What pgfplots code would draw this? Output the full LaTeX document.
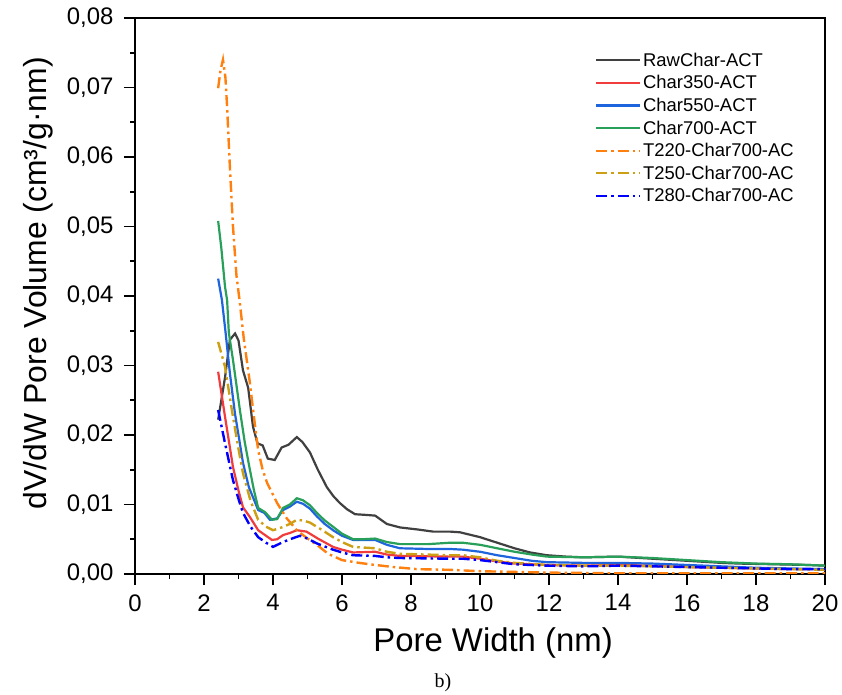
\documentclass[border=0pt]{standalone}
\usepackage{pgfplots}
\pgfplotsset{compat=1.18}
\usepackage{fontspec}
\setmainfont{Liberation Sans}
\newfontfamily\seriffont{Liberation Serif}
\definecolor{cRaw}{RGB}{64,64,64}
\definecolor{cRed}{RGB}{240,60,60}
\definecolor{cBlue}{RGB}{30,100,220}
\definecolor{cGreen}{RGB}{40,160,90}
\definecolor{cOrange}{RGB}{255,128,14}
\definecolor{cGold}{RGB}{205,160,20}
\definecolor{cDBlue}{RGB}{0,0,255}
\begin{document}
\begin{tikzpicture}[x=1bp,y=1bp]
\useasboundingbox (-135,-121) rectangle (707,574);
\begin{axis}[
  scale only axis, width=690bp, height=556bp,
  xmin=0, xmax=20, ymin=0, ymax=0.08,
  xtick={0,2,4,6,8,10,12,14,16,18,20},
  ytick={0,0.01,0.02,0.03,0.04,0.05,0.06,0.07,0.08},
  minor x tick num=1, minor y tick num=1,
  tick align=outside, xtick pos=bottom, ytick pos=left,
  major tick length=11bp, minor tick length=5bp,
  every tick/.style={black, line width=1.6bp},
  axis line style={line width=1.6bp},
  ticklabel style={font=\fontsize{24}{28}\selectfont},
  /pgf/number format/assume math mode=true,
  yticklabel style={xshift=-7bp, /pgf/number format/.cd, fixed, fixed zerofill, precision=2, use comma},
  xticklabel style={yshift=-6bp},
  scaled y ticks=false,
  xlabel={Pore Width (nm)},
  ylabel={dV/dW Pore Volume (cm³/g·nm)},
  every axis x label/.style={at={(rel axis cs:0.519,-0.124)}, anchor=center, font=\fontsize{33}{38}\selectfont},
  every axis y label/.style={at={(rel axis cs:-0.1406,0.523)}, anchor=center, rotate=90, font=\fontsize{32}{38}\selectfont},
  legend style={at={(rel axis cs:0.662,0.945)}, anchor=north west, draw=none, fill=none,
    font=\fontsize{18.5}{22}\selectfont, row sep=3.8bp},
  legend cell align=left,
  legend image code/.code={\draw[#1, line width=2.2bp] (0bp,0bp) -- (44bp,0bp);},
  clip mode=individual,
]
\addplot[cRaw, line width=2.2bp] coordinates {
(2.41,0.0222) (2.61,0.0283) (2.75,0.0337) (2.90,0.0346) (3.00,0.0336) (3.13,0.0293)
(3.28,0.0268) (3.42,0.0212) (3.55,0.0188) (3.70,0.0185) (3.85,0.0166) (4.05,0.0164)
(4.25,0.0182) (4.45,0.0186) (4.69,0.0197) (4.85,0.0190) (5.07,0.0175) (5.30,0.0150)
(5.56,0.0125) (5.75,0.0112) (5.94,0.0102) (6.15,0.0093) (6.38,0.0086) (6.70,0.0085)
(6.96,0.0084) (7.30,0.0072) (7.68,0.0067) (8.20,0.0064) (8.64,0.0061) (9.13,0.0061)
(9.42,0.0060) (10.0,0.0053) (10.5,0.0045) (11.0,0.0037) (11.45,0.0031) (11.94,0.0027)
(12.5,0.0025) (13.0,0.0024) (14.0,0.0025) (15.0,0.0022) (16.0,0.0019) (17.0,0.0016)
(17.5,0.0015) (18.5,0.0014) (19.5,0.0013) (20.0,0.0012)};
\addlegendentry{RawChar-ACT}
\addplot[cRed, line width=2.2bp] coordinates {
(2.41,0.0291) (2.61,0.0226) (2.84,0.0154) (3.00,0.0120) (3.13,0.0096) (3.33,0.0082)
(3.57,0.0063) (3.77,0.0056) (3.97,0.0049) (4.12,0.0050) (4.29,0.0056) (4.49,0.0059)
(4.69,0.0063) (4.97,0.0061) (5.30,0.0051) (5.74,0.0039) (6.00,0.0035) (6.32,0.0031)
(6.96,0.0032) (7.30,0.0028) (7.68,0.0026) (9.13,0.0025) (9.50,0.0025) (10.0,0.0022)
(10.5,0.0018) (11.0,0.0015) (11.94,0.0013) (13.0,0.0012) (14.0,0.0013) (15.0,0.0012)
(16.0,0.0010) (17.0,0.0009) (18.0,0.0008) (19.0,0.0007) (20.0,0.0007)};
\addlegendentry{Char350-ACT}
\addplot[cBlue, line width=2.2bp] coordinates {
(2.41,0.0425) (2.52,0.0394) (2.62,0.0350) (2.75,0.0289) (2.90,0.0230) (3.00,0.0200)
(3.13,0.0160) (3.30,0.0125) (3.57,0.0092) (3.75,0.0088) (3.91,0.0078) (4.12,0.0080)
(4.29,0.0092) (4.49,0.0097) (4.69,0.0104) (4.87,0.0101) (5.07,0.0094) (5.27,0.0083)
(5.50,0.0072) (5.74,0.0063) (6.00,0.0055) (6.32,0.0049) (6.60,0.0049) (6.96,0.0049)
(7.30,0.0042) (7.68,0.0037) (8.50,0.0036) (9.13,0.0036) (9.50,0.0035) (10.0,0.0032)
(10.5,0.0027) (11.0,0.0023) (11.5,0.0019) (11.94,0.0017) (13.0,0.0016) (14.0,0.0016)
(15.0,0.0015) (16.0,0.0013) (17.0,0.0011) (18.0,0.0009) (19.0,0.0008) (20.0,0.0007)};
\addlegendentry{Char550-ACT}
\addplot[cGreen, line width=2.2bp] coordinates {
(2.41,0.0508) (2.50,0.0470) (2.61,0.0413) (2.67,0.0394) (2.72,0.0347) (2.84,0.0308)
(3.04,0.0236) (3.18,0.0190) (3.33,0.0150) (3.45,0.0120) (3.57,0.0095) (3.77,0.0089)
(3.97,0.0078) (4.12,0.0079) (4.29,0.0095) (4.49,0.0100) (4.69,0.0109) (4.87,0.0106)
(5.07,0.0099) (5.27,0.0088) (5.50,0.0077) (5.74,0.0068) (6.00,0.0058) (6.32,0.0050)
(6.60,0.0050) (6.96,0.0051) (7.30,0.0046) (7.68,0.0043) (8.50,0.0043) (9.13,0.0045)
(9.50,0.0045) (10.0,0.0042) (10.5,0.0037) (11.0,0.0032) (11.5,0.0028) (11.94,0.0025)
(13.0,0.0024) (14.0,0.0025) (15.0,0.0023) (16.0,0.0020) (17.0,0.0017) (18.0,0.0015)
(19.0,0.0014) (20.0,0.0012)};
\addlegendentry{Char700-ACT}
\addplot[cOrange, line width=2.4bp, dash pattern=on 11bp off 4bp on 2.5bp off 4bp] coordinates {
(2.41,0.0699) (2.48,0.0725) (2.55,0.0740) (2.62,0.0715) (2.67,0.0672) (2.75,0.0586)
(2.84,0.0500) (2.94,0.0430) (3.04,0.0390) (3.15,0.0340) (3.33,0.0275) (3.45,0.0225)
(3.57,0.0178) (3.70,0.0150) (3.83,0.0131) (4.12,0.0102) (4.40,0.0080) (4.69,0.0063)
(5.00,0.0051) (5.27,0.0042) (5.60,0.0029) (6.00,0.0020) (6.50,0.0016) (6.96,0.0013)
(7.50,0.0010) (8.17,0.0007) (9.13,0.0006) (10.0,0.0004) (11.0,0.0003) (12.0,0.0002)
(14.0,0.0001) (16.0,0.0001) (18.0,0.0001) (20.0,0.0001)};
\addlegendentry{T220-Char700-AC}
\addplot[cGold, line width=2.4bp, dash pattern=on 11bp off 4bp on 2.5bp off 4bp] coordinates {
(2.41,0.0334) (2.61,0.0298) (2.84,0.0226) (3.00,0.0180) (3.13,0.0145) (3.35,0.0105)
(3.57,0.0078) (3.80,0.0068) (4.00,0.0063) (4.25,0.0067) (4.49,0.0072) (4.69,0.0078)
(4.87,0.0077) (5.07,0.0074) (5.40,0.0064) (5.74,0.0053) (6.00,0.0046) (6.32,0.0039)
(6.96,0.0037) (7.30,0.0032) (7.68,0.0029) (9.13,0.0027) (9.50,0.0027) (10.0,0.0024)
(10.5,0.0019) (11.0,0.0016) (11.94,0.0013) (13.0,0.0012) (14.0,0.0012) (15.0,0.0011)
(16.0,0.0010) (17.0,0.0009) (18.0,0.0008) (19.0,0.0007) (20.0,0.0006)};
\addlegendentry{T250-Char700-AC}
\addplot[cDBlue, line width=2.4bp, dash pattern=on 11bp off 4bp on 2.5bp off 4bp] coordinates {
(2.41,0.0236) (2.61,0.0188) (2.84,0.0135) (3.00,0.0108) (3.13,0.0088) (3.35,0.0068)
(3.57,0.0053) (3.80,0.0045) (4.00,0.0039) (4.25,0.0045) (4.49,0.0050) (4.78,0.0055)
(5.00,0.0051) (5.27,0.0044) (5.74,0.0035) (6.00,0.0031) (6.32,0.0027) (6.96,0.0026)
(7.30,0.0024) (7.68,0.0023) (9.13,0.0022) (9.50,0.0022) (10.0,0.0020) (10.5,0.0017)
(11.0,0.0014) (11.94,0.0012) (13.0,0.0011) (14.0,0.0012) (15.0,0.0011) (16.0,0.0010)
(17.0,0.0009) (18.0,0.0008) (19.0,0.0007) (20.0,0.0007)};
\addlegendentry{T280-Char700-AC}
\end{axis}
\node at (308,-109) {\seriffont\fontsize{20}{24}\selectfont b)};
\end{tikzpicture}
\end{document}
